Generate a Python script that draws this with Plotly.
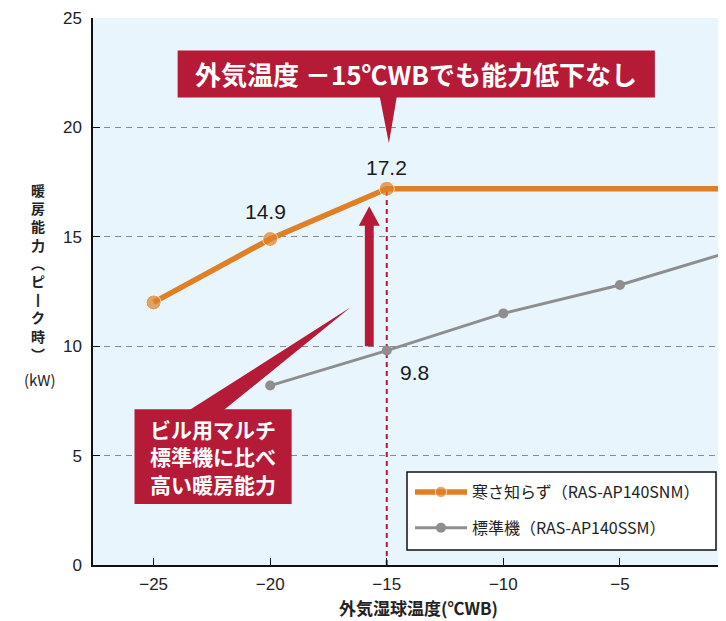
import plotly.graph_objects as go

# ---- data ----
temps_snm = [-25, -20, -15, 0]
cap_snm = [12.0, 14.9, 17.2, 17.2]
temps_ssm = [-20, -15, -10, -5, 0]
cap_ssm = [8.2, 9.8, 11.5, 12.8, 14.4]
name_snm = "寒さ知らず（RAS-AP140SNM）"
name_ssm = "標準機（RAS-AP140SSM）"
x_ticks = [-25, -20, -15, -10, -5]
y_ticks = [0, 5, 10, 15, 20, 25]
highlight_temp = -15
callout_top = "外気温度 －15℃WBでも能力低下なし"
callout_left = ["ビル用マルチ", "標準機に比べ", "高い暖房能力"]
y_title_chars = ["暖", "房", "能", "力", "︵", "ピ", "丨", "ク", "時", "︶"]
y_unit = "(kW)"
x_title = "外気湿球温度(℃WB)"

ORANGE = "#E07F24"
GRAY = "#8E8E8E"
RED = "#B51A37"
BG = "#E8F5FD"
JP = "Noto Sans CJK JP"
NUM = "Liberation Sans Narrow, Liberation Sans, Arial"

# page body adds an 8px margin; figure geometry compensates
OFF = 8
L, R, T, B, W, H = 85, 0, 10, 56, 718, 613
pw, ph = W - L - R, H - T - B


def px2paper(sx, sy):
    return (sx - OFF - L) / pw, (H - B - (sy - OFF)) / ph


fig = go.Figure()

snm_at = cap_snm[temps_snm.index(highlight_temp)]
ssm_at = cap_ssm[temps_ssm.index(highlight_temp)]
fig.add_shape(type="line", x0=highlight_temp, x1=highlight_temp, y0=0, y1=snm_at,
              xref="x", yref="y", line=dict(color=RED, width=2, dash="5px,4px"), layer="below")

fig.add_trace(go.Scatter(
    x=temps_ssm, y=cap_ssm, mode="lines+markers", name=name_ssm,
    line=dict(color=GRAY, width=3), marker=dict(color=GRAY, size=10),
    legendgroup="b", legendrank=2))
fig.add_trace(go.Scatter(
    x=temps_snm, y=cap_snm, mode="lines+markers", name=name_snm,
    line=dict(color=ORANGE, width=5.5),
    marker=dict(color=ORANGE, size=[15 if t <= highlight_temp else 0 for t in temps_snm]),
    legendgroup="a", legendrank=1))

# data labels
lab_font = dict(family=NUM, size=21, color="#1a1a1a")
fig.add_annotation(x=-20, y=cap_snm[1], text=f"{cap_snm[1]:.1f}", showarrow=False,
                   xshift=-5, yshift=27, font=lab_font)
fig.add_annotation(x=highlight_temp, y=snm_at, text=f"{snm_at:.1f}", showarrow=False,
                   yshift=21, font=lab_font)
fig.add_annotation(x=highlight_temp, y=ssm_at, text=f"{ssm_at:.1f}", showarrow=False,
                   xshift=28, yshift=-22, font=lab_font)

# upward red arrow
ax0, ax1 = -15.94, -15.56
hx0, hx1 = -16.2, -15.3
y_base, y_neck, y_tip = ssm_at + 0.2, 15.5, 16.4
fig.add_shape(type="path", xref="x", yref="y", fillcolor=RED, line=dict(width=0),
              path=f"M{ax0},{y_base} L{ax1},{y_base} L{ax1},{y_neck} L{hx1},{y_neck} "
                   f"L{(hx0+hx1)/2},{y_tip} L{hx0},{y_neck} L{ax0},{y_neck} Z")

# top callout
fig.add_shape(type="rect", xref="x", yref="y", x0=-23.97, x1=-3.5, y0=21.37, y1=23.52,
              fillcolor=RED, line=dict(width=0))
fig.add_shape(type="path", xref="x", yref="y", fillcolor=RED, line=dict(width=0),
              path="M-15.3,21.4 L-14.57,21.4 L-14.91,19.27 Z")
fig.add_annotation(x=(-23.97 - 3.5) / 2, y=(21.37 + 23.52) / 2, xref="x", yref="y",
                   text=f"<b>{callout_top}</b>", showarrow=False,
                   font=dict(family=JP, size=26, color="white"))

# bottom-left callout
fig.add_shape(type="path", xref="x", yref="y", fillcolor=RED, line=dict(width=0),
              path="M-23.58,7.0 L-22.08,7.0 L-16.55,11.78 Z")
fig.add_shape(type="rect", xref="x", yref="y", x0=-25.82, x1=-19.08, y0=2.79, y1=7.12,
              fillcolor=RED, line=dict(width=0))
fig.add_annotation(x=(-25.82 - 19.08) / 2, y=(2.79 + 7.12) / 2, xref="x", yref="y",
                   text="<b>" + "<br>".join(callout_left) + "</b>", showarrow=False,
                   font=dict(family=JP, size=21, color="white"))

# y-axis title (vertical stack of characters)
px, py = px2paper(38, 272)
fig.add_annotation(x=px, y=py, xref="paper", yref="paper",
                   text="<b>" + "<br>".join(y_title_chars) + "</b>",
                   xanchor="center", yanchor="middle",
                   showarrow=False, font=dict(family=JP, size=14, color="#222"))
px, py = px2paper(40, 379)
fig.add_annotation(x=px, y=py, xref="paper", yref="paper", text=y_unit,
                   xanchor="center", yanchor="middle",
                   showarrow=False, font=dict(family=JP, size=15, color="#222"))
px, py = px2paper(419, 607)
fig.add_annotation(x=px, y=py, xref="paper", yref="paper", text=f"<b>{x_title}</b>",
                   xanchor="center", yanchor="middle",
                   showarrow=False, font=dict(family=JP, size=17, color="#222"))

# legend frame
fx0, fy0 = px2paper(407, 550)
fx1, fy1 = px2paper(716, 472)
fig.add_shape(type="rect", xref="paper", yref="paper", x0=fx0, x1=fx1, y0=fy0, y1=fy1,
              fillcolor="white", line=dict(color="#111", width=1.5), layer="above")

lx, ly = px2paper(410, 545)
fig.update_layout(
    width=W, height=H, margin=dict(l=L, r=R, t=T, b=B),
    paper_bgcolor="white", plot_bgcolor=BG,
    showlegend=True,
    legend=dict(x=lx, y=ly, xanchor="left", yanchor="bottom",
                bgcolor="rgba(0,0,0,0)", borderwidth=0,
                font=dict(family=JP, size=16, color="#222"),
                traceorder="grouped", tracegroupgap=12, itemwidth=52),
    xaxis=dict(range=[-27.6, -0.45], tickvals=x_ticks, ticks="inside", ticklen=7,
               tickcolor="#111", showline=True, linecolor="#111", linewidth=1.5,
               showgrid=False, zeroline=False, ticklabelstandoff=3,
               tickfont=dict(family=NUM, size=17, color="#222")),
    yaxis=dict(range=[0, 25], tickvals=y_ticks, ticks="inside", ticklen=7,
               tickcolor="#111", showline=True, linecolor="#111", linewidth=1.5,
               showgrid=True, gridcolor="#8a8a8a", gridwidth=1, griddash="6px,5px",
               zeroline=False, ticklabelstandoff=6,
               tickfont=dict(family=NUM, size=17, color="#222")),
)

fig.write_html("out.html")
